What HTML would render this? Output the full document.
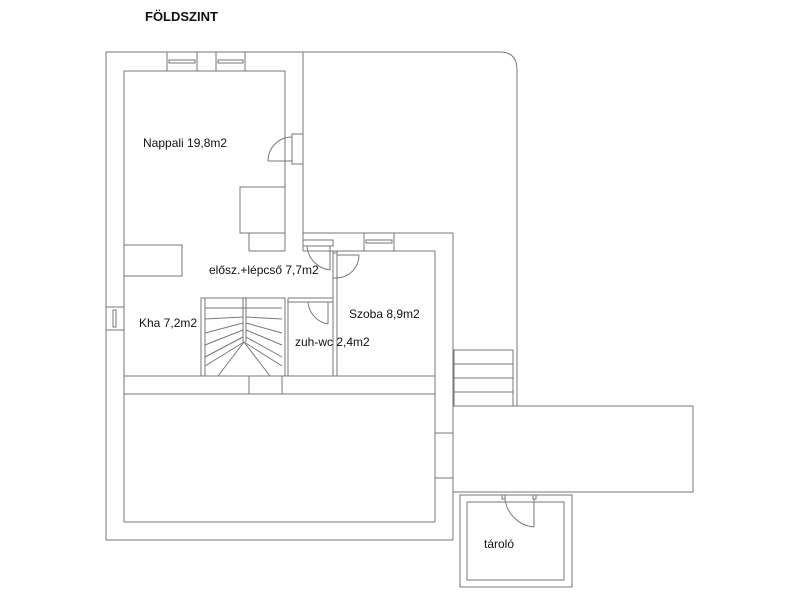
<!DOCTYPE html>
<html><head><meta charset="utf-8"><style>
html,body{margin:0;padding:0;background:#fff;}
svg{display:block}
text{font-family:"Liberation Sans",sans-serif;fill:#111}
</style></head><body>
<svg width="800" height="600" viewBox="0 0 800 600" xmlns="http://www.w3.org/2000/svg">
<g fill="none" stroke="#777" stroke-width="1">
<!-- outer -->
<path d="M106 52 H500 Q517 52 517 70 V406"/>
<line x1="106" y1="52" x2="106" y2="540"/>
<line x1="106" y1="540" x2="453" y2="540"/>
<line x1="453" y1="233" x2="453" y2="540"/>
<!-- nappali inner -->
<path d="M124 522 V71 H285 V251"/>
<line x1="303" y1="52" x2="303" y2="233"/>
<line x1="303" y1="233" x2="453" y2="233"/>
<line x1="249" y1="233" x2="285" y2="233"/>
<line x1="249" y1="233" x2="249" y2="251"/>
<line x1="249" y1="251" x2="285" y2="251"/>
<line x1="303" y1="233" x2="303" y2="251"/>
<line x1="303" y1="251" x2="435" y2="251"/>
<line x1="435" y1="251" x2="435" y2="522"/>
<line x1="124" y1="522" x2="435" y2="522"/>
<!-- windows top -->
<rect x="167" y="52" width="30" height="19"/><rect x="169" y="60" width="26" height="3"/>
<rect x="216" y="52" width="29" height="19"/><rect x="218" y="60" width="25" height="3"/>
<!-- door nappali -->
<rect x="292" y="134" width="11" height="30"/>
<line x1="292" y1="134" x2="292" y2="164"/>
<path d="M268 161 A24 24 0 0 1 292 137"/><line x1="268" y1="161" x2="292" y2="161"/>
<!-- chimney -->
<rect x="240" y="187" width="45" height="46"/>
<!-- counter -->
<rect x="124" y="245" width="58" height="31"/>
<!-- left window -->
<rect x="106" y="307" width="18" height="23"/><rect x="113" y="310" width="3" height="17"/>
<!-- entrance door top -->
<rect x="303" y="240" width="30" height="6"/>
<path d="M307 246 A26 26 0 0 0 330 270"/><line x1="330" y1="246" x2="330" y2="270"/>
<!-- szoba window -->
<rect x="364" y="233" width="30" height="18"/><rect x="366" y="240" width="26" height="3"/>
<!-- wall between hall and szoba -->
<line x1="333" y1="251" x2="333" y2="376"/><line x1="337" y1="251" x2="337" y2="376"/>
<rect x="333" y="253" width="4" height="25"/>
<path d="M337 278 A23 23 0 0 0 359 255"/><line x1="337" y1="255" x2="359" y2="255"/>
<!-- wc -->
<line x1="288" y1="298" x2="333" y2="298"/><line x1="288" y1="302" x2="333" y2="302"/>
<line x1="288" y1="298" x2="288" y2="376"/>
<path d="M308 302 A24 24 0 0 0 328 324"/><line x1="328" y1="302" x2="328" y2="324"/>
<!-- stairs -->
<rect x="201" y="298" width="84" height="78"/>
<line x1="205" y1="298" x2="205" y2="376"/>
<line x1="243" y1="298" x2="243" y2="342"/><line x1="246" y1="298" x2="246" y2="342"/>
<line x1="205" y1="308" x2="282" y2="308"/>
<line x1="205" y1="319" x2="243" y2="317"/><line x1="246" y1="317" x2="282" y2="319"/>
<line x1="205" y1="333" x2="243" y2="323"/><line x1="246" y1="323" x2="282" y2="333"/>
<line x1="205" y1="345" x2="243" y2="330"/><line x1="246" y1="330" x2="282" y2="345"/>
<line x1="205" y1="357" x2="243" y2="337"/><line x1="246" y1="337" x2="282" y2="357"/>
<line x1="244" y1="342" x2="205" y2="366"/><line x1="244" y1="342" x2="282" y2="366"/>
<line x1="244" y1="342" x2="218" y2="376"/><line x1="244" y1="342" x2="270" y2="376"/>
<!-- horizontal wall -->
<line x1="124" y1="376" x2="435" y2="376"/><line x1="124" y1="394" x2="435" y2="394"/>
<rect x="249" y="376" width="33" height="18"/>
<!-- right window -->
<rect x="435" y="433" width="18" height="45"/>
<!-- outside stairs -->
<rect x="454" y="350" width="59" height="56"/>
<line x1="454" y1="364" x2="513" y2="364"/><line x1="454" y1="378" x2="513" y2="378"/><line x1="454" y1="392" x2="513" y2="392"/>
<!-- terrace -->
<rect x="453" y="406" width="240" height="86"/>
<!-- storage -->
<rect x="460" y="495" width="112" height="92"/>
<rect x="467" y="502" width="97" height="78"/>
<rect x="502" y="495" width="3" height="4"/><rect x="533" y="495" width="3" height="4"/>
<path d="M505 499 A32 32 0 0 0 534 527"/><line x1="534" y1="499" x2="534" y2="527"/>
</g>
<text x="145" y="21" font-size="13" font-weight="bold">FÖLDSZINT</text>
<text x="143" y="147" font-size="12">Nappali 19,8m2</text>
<text x="209" y="274" font-size="12">elősz.+lépcső 7,7m2</text>
<text x="139" y="327" font-size="12">Kha 7,2m2</text>
<text x="349" y="318" font-size="12">Szoba 8,9m2</text>
<text x="295" y="346" font-size="12">zuh-wc 2,4m2</text>
<text x="484" y="548" font-size="12">tároló</text>
</svg>
</body></html>
